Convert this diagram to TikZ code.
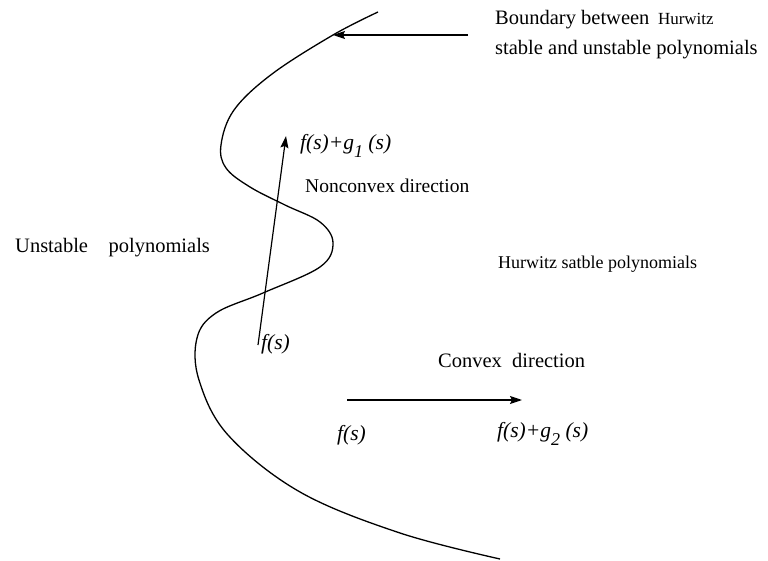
\documentclass[tikz,border=0pt]{standalone}
\usepackage{fontspec}
\setmainfont{Liberation Serif}
\usetikzlibrary{arrows.meta}
\tikzset{
  lbl/.style={anchor=base west, inner sep=0pt, font=\fontsize{20.5}{24}\selectfont},
  small/.style={anchor=base west, inner sep=0pt, font=\fontsize{18}{21}\selectfont},
  mlbl/.style={anchor=base west, inner sep=0pt, font=\fontsize{21.5}{24}\selectfont\itshape},
  curve/.style={line width=1.3pt},
  arr/.style={line width=1.2pt, -{Stealth[length=12pt,width=8pt,inset=2pt]}}
}
\newcommand{\subx}[1]{\raisebox{-8pt}{\fontsize{18}{20}\selectfont #1}}
\begin{document}
\begin{tikzpicture}[x=1pt,y=-1pt]
\useasboundingbox (0,0) rectangle (768,561);
% boundary curve
\draw[curve] plot[smooth, tension=0.6] coordinates {
 (378,12) (333,35) (272,74) (234,110) (221,145) (226,168) (250,187) (285,205)
 (320,222) (333,243) (320,267) (263,293) (216,313) (197,338) (199,380) (228,435)
 (300,492) (400,533) (500,559)};
% coordinates
\coordinate (bt) at (333,35);
\coordinate (bs) at (468,35);
\coordinate (nt) at (258,345);
\coordinate (nh) at (286,136);
\coordinate (ct) at (347,400);
\coordinate (ch) at (522,400);
\draw[arr] (bs) -- (bt);
\draw[arr] (nt) -- (nh);
\draw[arr] (ct) -- (ch);
% labels
\node[lbl] (b1) at (495,25) {Boundary between \,{\fontsize{17}{19}\selectfont Hurwitz}};
\node[lbl] (b2) at (495,55) {stable and unstable polynomials};
\node[lbl] (un) at (15,253) {Unstable \ \ \ polynomials};
\node[small] (hs) at (498,269) {Hurwitz satble polynomials};
\node[lbl, font=\fontsize{19.5}{23}\selectfont] (nc) at (305,193) {Nonconvex direction};
\node[mlbl] (fg1) at (300,150) {f(s)+g\subx{1} (s)};
\node[mlbl] (f1) at (261,349) {f(s)};
\node[lbl] (cv) at (438,367) {Convex \ direction};
\node[mlbl] (f2) at (337,440) {f(s)};
\node[mlbl] (fg2) at (497,437) {f(s)+g\subx{2} (s)};
\end{tikzpicture}
\end{document}
